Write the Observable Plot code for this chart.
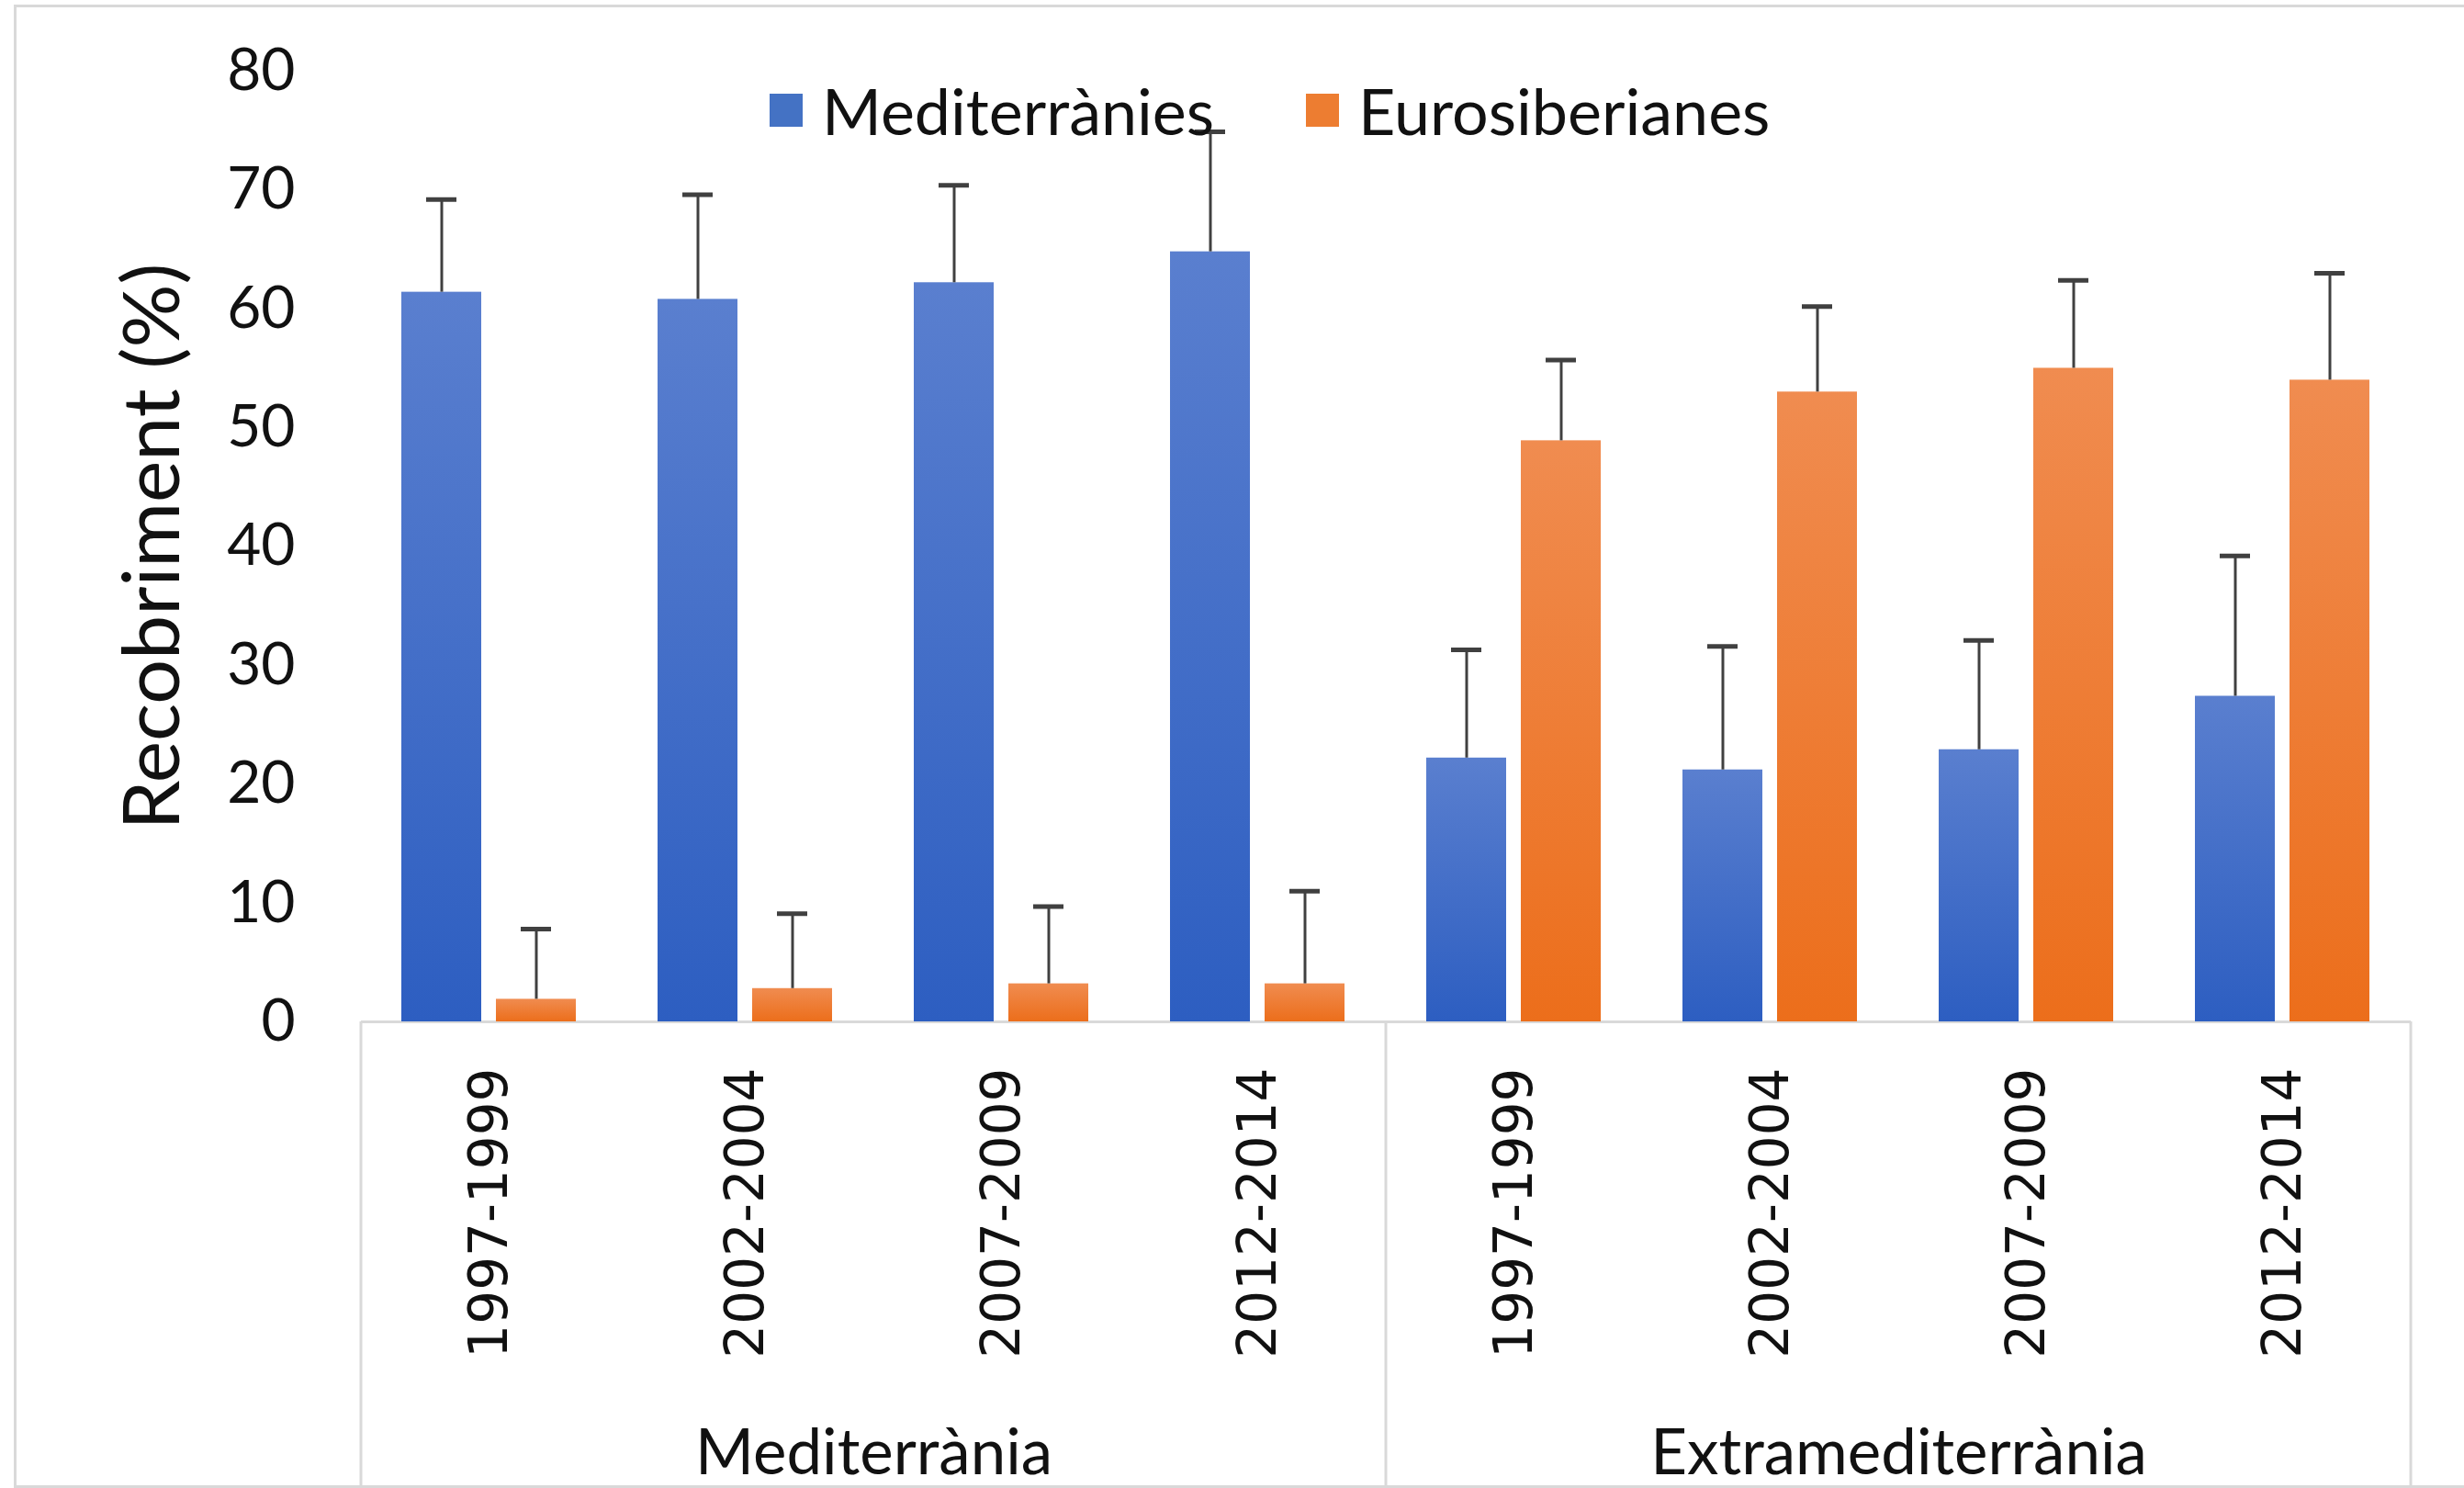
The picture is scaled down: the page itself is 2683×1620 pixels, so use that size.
<!DOCTYPE html>
<html>
<head>
<meta charset="utf-8">
<script src="https://cdn.jsdelivr.net/npm/d3@7"></script>
<script src="https://cdn.jsdelivr.net/npm/@observablehq/plot@0.6"></script>
<style>
  html, body { margin: 0; padding: 0; background: #fff; overflow: hidden; }
  #wrap { position: relative; width: 2683px; height: 1620px; overflow: hidden; }
  #frame { position: absolute; left: 15px; top: 5px; width: 2800px; height: 1615px;
           border: 3px solid #d9d9d9; box-sizing: border-box; }
  #chart { position: absolute; left: 0; top: 0; }
  #legend { position: absolute; left: 838px; top: 78px; display: flex; align-items: center;
            font-family: Lato, sans-serif; font-size: 70px; color: #111; white-space: nowrap; }
  .item { display: flex; align-items: center; margin-right: 100px; }
  .sw { width: 36px; height: 36px; margin-right: 21px; }
</style>
</head>
<body>
<div id="wrap">
  <div id="frame"></div>
  <div id="chart"></div>
  <div id="legend"></div>
</div>
<script>
// ---- data ----
const groups = ["Mediterrània", "Extramediterrània"];
const periods = ["1997-1999", "2002-2004", "2007-2009", "2012-2014"];
const seriesNames = ["Mediterrànies", "Eurosiberianes"];
const seriesColors = ["#4472C4", "#ED7D31"];
// order: Mediterrània (4 periods), then Extramediterrània (4 periods)
const medValues  = [61.4, 60.8, 62.2, 64.8, 22.2, 21.2, 22.9, 27.4];
const medErrors  = [7.8, 8.8, 8.2, 10.1, 9.1, 10.4, 9.2, 11.8];
const euroValues = [1.9, 2.8, 3.2, 3.2, 48.9, 53.0, 55.0, 54.0];
const euroErrors = [5.9, 6.3, 6.5, 7.8, 6.8, 7.2, 7.4, 9.0];
const yTicks = [0, 10, 20, 30, 40, 50, 60, 70, 80];
const yLabel = "Recobriment (%)";

// ---- table built from arrays ----
const keyOf = (g, p) => g + "|" + p;
const keys = groups.flatMap(g => periods.map(p => keyOf(g, p)));
const rows = [];
keys.forEach((k, i) => {
  rows.push({key: k, series: seriesNames[0], value: medValues[i], err: medErrors[i]});
  rows.push({key: k, series: seriesNames[1], value: euroValues[i], err: euroErrors[i]});
});

const W = 2683, H = 1620;
const errColor = "#404040";

const plot = Plot.plot({
  width: W, height: H,
  marginTop: 77, marginRight: 55, marginBottom: 508, marginLeft: 390,
  style: {background: "transparent", fontFamily: "Lato, sans-serif", color: "#111", overflow: "visible"},
  fx: {domain: keys, padding: 0},
  x: {domain: seriesNames, paddingInner: 0.154, paddingOuter: 0.422, axis: null},
  y: {domain: [0, 80]},
  marks: [
    Plot.axisY(yTicks, {anchor: "left", tickSize: 0, tickPadding: 72, fontSize: 64, label: null}),
    Plot.axisFx({anchor: "bottom", tickSize: 0, tickPadding: 50, tickRotate: -90,
                 fontSize: 58, fontFamily: "DejaVu Sans", label: null,
                 tickFormat: k => k.split("|")[1]}),
    Plot.ruleY([0], {stroke: "#d9d9d9", strokeWidth: 3}),
    Plot.barY(rows.filter(d => d.series === seriesNames[0]),
              {fx: "key", x: "series", y1: 0, y2: "value", fill: "url(#gradMed)"}),
    Plot.barY(rows.filter(d => d.series === seriesNames[1]),
              {fx: "key", x: "series", y1: 0, y2: "value", fill: "url(#gradEuro)"}),
    Plot.ruleX(rows, {fx: "key", x: "series", y1: "value", y2: d => d.value + d.err,
                      stroke: errColor, strokeWidth: 3}),
    Plot.tickY(rows, {fx: "key", x: "series", y: d => d.value + d.err,
                      stroke: errColor, strokeWidth: 5, insetLeft: 27, insetRight: 27}),
    Plot.text([yLabel], {fx: () => keys[0], text: d => d, frameAnchor: "left", rotate: -90,
                         dx: -226, fontSize: 86, textAnchor: "middle", fill: "#111"}),
    Plot.text(groups, {fx: g => keyOf(g, periods[1]), text: d => d, frameAnchor: "bottom-right",
                       textAnchor: "middle", lineAnchor: "bottom", dy: 492, fontSize: 69, fill: "#111"})
  ]
});

// gradients for bar fills
const svg = d3.select(plot);
const defs = svg.insert("defs", ":first-child");
function grad(id, top, bottom) {
  const g = defs.append("linearGradient").attr("id", id)
    .attr("x1", 0).attr("y1", 0).attr("x2", 0).attr("y2", 1);
  g.append("stop").attr("offset", "0%").attr("stop-color", top);
  g.append("stop").attr("offset", "100%").attr("stop-color", bottom);
}
grad("gradMed", "#5a7fcf", "#2d5ec1");
grad("gradEuro", "#f08c50", "#ec6e1b");

// category-table lines below the axis, from the fx / y scales
const fx = plot.scale("fx"), ys = plot.scale("y");
const y0 = ys.apply(0);
const xsLines = [fx.apply(keys[0]), fx.apply(keys[periods.length]),
                 fx.apply(keys[keys.length - 1]) + fx.bandwidth];
svg.append("g").selectAll("line").data(xsLines).join("line")
  .attr("x1", d => d).attr("x2", d => d)
  .attr("y1", y0).attr("y2", H)
  .attr("stroke", "#d9d9d9").attr("stroke-width", 3);

document.getElementById("chart").appendChild(plot);

// legend
const leg = d3.select("#legend");
seriesNames.forEach((s, i) => {
  const it = leg.append("div").attr("class", "item");
  it.append("div").attr("class", "sw").style("background", seriesColors[i]);
  it.append("span").text(s);
});
</script>
</body>
</html>
